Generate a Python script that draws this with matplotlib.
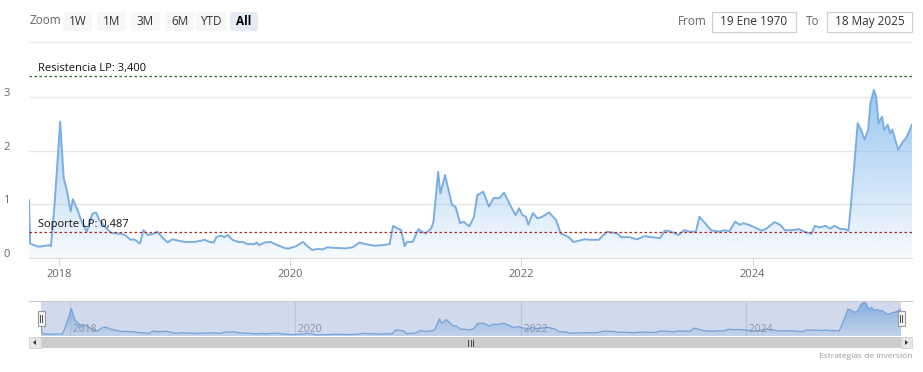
import numpy as np
import matplotlib.pyplot as plt
from matplotlib.patches import FancyBboxPatch, Rectangle, Polygon
from matplotlib.lines import Line2D
from matplotlib.transforms import ScaledTranslation

plt.rcParams['font.family'] = ['Open Sans', 'DejaVu Sans']

# fecha en años decimales y valor de la serie
years = [
    2017.74, 2017.75, 2017.82, 2017.92, 2017.93, 2017.96, 2018.01, 2018.04, 2018.07, 2018.10,
    2018.12, 2018.14, 2018.16, 2018.19, 2018.24, 2018.27, 2018.29, 2018.32, 2018.35, 2018.39,
    2018.45, 2018.54, 2018.57, 2018.62, 2018.65, 2018.70, 2018.73, 2018.77, 2018.81, 2018.85,
    2018.90, 2018.94, 2018.98, 2019.04, 2019.09, 2019.17, 2019.22, 2019.26, 2019.30, 2019.34,
    2019.36, 2019.40, 2019.43, 2019.46, 2019.50, 2019.55, 2019.59, 2019.63, 2019.69, 2019.71,
    2019.73, 2019.78, 2019.83, 2019.89, 2019.96, 2019.99, 2020.05, 2020.11, 2020.15, 2020.19,
    2020.24, 2020.28, 2020.32, 2020.38, 2020.48, 2020.54, 2020.60, 2020.65, 2020.73, 2020.80,
    2020.86, 2020.89, 2020.93, 2020.96, 2020.99, 2021.01, 2021.06, 2021.11, 2021.14, 2021.17,
    2021.22, 2021.24, 2021.28, 2021.30, 2021.34, 2021.37, 2021.40, 2021.43, 2021.47, 2021.50,
    2021.55, 2021.59, 2021.62, 2021.65, 2021.67, 2021.72, 2021.76, 2021.81, 2021.85, 2021.91,
    2021.95, 2021.98, 2022.01, 2022.04, 2022.06, 2022.10, 2022.14, 2022.18, 2022.24, 2022.30,
    2022.34, 2022.41, 2022.45, 2022.55, 2022.60, 2022.67, 2022.74, 2022.83, 2022.86, 2022.93,
    2023.00, 2023.07, 2023.12, 2023.20, 2023.24, 2023.27, 2023.32, 2023.36, 2023.41, 2023.46,
    2023.51, 2023.54, 2023.59, 2023.64, 2023.71, 2023.76, 2023.80, 2023.85, 2023.89, 2023.92,
    2023.97, 2024.04, 2024.08, 2024.12, 2024.19, 2024.24, 2024.28, 2024.34, 2024.40, 2024.45,
    2024.51, 2024.54, 2024.58, 2024.63, 2024.67, 2024.71, 2024.76, 2024.80, 2024.83, 2024.85,
    2024.88, 2024.91, 2024.94, 2024.97, 2025.00, 2025.02, 2025.05, 2025.07, 2025.09, 2025.12,
    2025.14, 2025.17, 2025.19, 2025.21, 2025.26, 2025.30, 2025.33, 2025.38,
]
values = [
    1.08, 0.27, 0.21, 0.24, 0.22, 0.96, 2.55, 1.50, 1.24, 0.87,
    1.10, 0.99, 0.90, 0.71, 0.49, 0.71, 0.83, 0.85, 0.71, 0.60,
    0.47, 0.45, 0.43, 0.34, 0.35, 0.27, 0.52, 0.43, 0.45, 0.49,
    0.37, 0.29, 0.35, 0.32, 0.30, 0.30, 0.32, 0.34, 0.30, 0.29,
    0.39, 0.42, 0.39, 0.43, 0.34, 0.30, 0.30, 0.26, 0.26, 0.29,
    0.24, 0.29, 0.30, 0.24, 0.18, 0.18, 0.22, 0.30, 0.22, 0.15,
    0.17, 0.16, 0.20, 0.19, 0.18, 0.20, 0.29, 0.26, 0.23, 0.24,
    0.26, 0.60, 0.55, 0.52, 0.22, 0.30, 0.30, 0.54, 0.49, 0.46,
    0.55, 0.68, 1.61, 1.21, 1.55, 1.27, 0.99, 0.96, 0.65, 0.68,
    0.59, 0.77, 1.18, 1.21, 1.24, 0.96, 1.12, 1.12, 1.22, 0.96,
    0.80, 0.93, 0.80, 0.77, 0.62, 0.84, 0.74, 0.77, 0.85, 0.71,
    0.46, 0.39, 0.30, 0.35, 0.34, 0.34, 0.49, 0.46, 0.39, 0.39,
    0.35, 0.41, 0.39, 0.37, 0.51, 0.51, 0.47, 0.43, 0.52, 0.49,
    0.49, 0.77, 0.65, 0.52, 0.49, 0.52, 0.50, 0.68, 0.62, 0.65,
    0.62, 0.55, 0.51, 0.55, 0.67, 0.62, 0.52, 0.52, 0.54, 0.49,
    0.45, 0.60, 0.57, 0.60, 0.55, 0.60, 0.54, 0.54, 0.51, 0.96,
    1.71, 2.52, 2.39, 2.21, 2.39, 2.89, 3.14, 3.02, 2.52, 2.64,
    2.39, 2.49, 2.33, 2.40, 2.02, 2.17, 2.24, 2.49,
]

resistencia = 3.400
soporte = 0.487
year_ticks = [2018, 2020, 2022, 2024]
y_ticks = [0, 1, 2, 3]
zoom_buttons = ["1W", "1M", "3M", "6M", "YTD", "All"]
date_from = "19 Ene 1970"
date_to = "18 May 2025"

W, H = 923, 372
line_color = "#7aaee2"
fill_rgb = (124 / 255, 181 / 255, 236 / 255)


def px_axes(x0, y0, x1, y1):
    # coordenadas en pixeles (origen arriba a la izquierda)
    return [x0 / W, 1 - y1 / H, (x1 - x0) / W, (y1 - y0) / H]


def gradient_fill(ax, x, y, ytop, a_top, a_bot, zorder=1):
    img = np.zeros((256, 1, 4))
    img[..., :3] = fill_rgb
    img[:, 0, 3] = np.linspace(a_top, a_bot, 256)
    poly = ax.fill_between(x, y, ax.get_ylim()[0], color="none", lw=0)
    im = ax.imshow(img, extent=[x[0], x[-1], ax.get_ylim()[0], ytop],
                   aspect="auto", origin="upper", zorder=zorder)
    im.set_clip_path(poly.get_paths()[0], transform=ax.transData)


fig = plt.figure(figsize=(W / 100, H / 100), dpi=100)

# ---------------- grafico principal ----------------
ax = fig.add_axes(px_axes(29, 60, 912, 258))
ax.set_xlim(years[0], years[-1])
ax.set_ylim(0, 3.70)
gradient_fill(ax, years, values, 3.70, 0.90, 0.06)
ax.plot(years, values, color=line_color, lw=1.4, zorder=3)

for s in ["top", "left", "right"]:
    ax.spines[s].set_visible(False)
ax.spines["bottom"].set_color("#dcdcdc")
ax.set_yticks(y_ticks)
ax.set_yticklabels([str(t) for t in y_ticks])
ax.grid(axis="y", color="#e6e6e6", lw=1)
ax.set_axisbelow(True)
ax.tick_params(axis="y", length=0, pad=14, labelsize=8, labelcolor="#666666")
for lab in ax.get_yticklabels():
    lab.set_transform(lab.get_transform() + ScaledTranslation(0, 0.05, fig.dpi_scale_trans))
ax.set_xticks(year_ticks)
ax.set_xticklabels([str(t) for t in year_ticks])
ax.tick_params(axis="x", length=6, color="#ccd6eb", pad=2, labelsize=8, labelcolor="#666666")

ax.axhline(resistencia, color="#2f5e2f", lw=0.9, ls=(0, (2, 2)), zorder=4)
ax.axhline(soporte, color="#b22222", lw=0.9, ls=(0, (2, 2)), zorder=4)
ax.annotate("Resistencia LP: 3,400", xy=(0, resistencia), xycoords=("axes fraction", "data"),
            xytext=(9, 2), textcoords="offset pixels", fontsize=8, va="bottom", color="#111111")
ax.annotate("Soporte LP: 0,487", xy=(0, soporte), xycoords=("axes fraction", "data"),
            xytext=(9, 2), textcoords="offset pixels", fontsize=8, va="bottom", color="#111111",
            zorder=6)

# ---------------- navegador ----------------
nav = fig.add_axes(px_axes(41, 301, 901, 336))
nav.set_xlim(years[0], years[-1])
nav.set_ylim(0.05, 3.25)
gradient_fill(nav, years, values, 3.25, 0.85, 0.15)
nav.plot(years, values, color=line_color, lw=0.9, zorder=3)
for yt in year_ticks:
    nav.axvline(yt, color="#e0e0e0", lw=0.8, zorder=0)
    nav.text(yt, 0.12, " " + str(yt), fontsize=7.5, color="#999999", va="bottom", ha="left")
nav.axvspan(years[0], years[-1], color=(102 / 255, 133 / 255, 194 / 255), alpha=0.3, lw=0, zorder=5)
nav.set_xticks([])
nav.set_yticks([])
for s in nav.spines.values():
    s.set_visible(False)

# ---------------- capa de interfaz (botones, scrollbar, etc.) ----------------
ui = fig.add_axes([0, 0, 1, 1], zorder=10)
ui.set_xlim(0, W)
ui.set_ylim(H, 0)
ui.axis("off")
ui.patch.set_alpha(0)

ui.add_line(Line2D([29, 912], [42, 42], color="#eeeeee", lw=1))
ui.text(30, 21, "Zoom", fontsize=8.5, color="#666666", va="center")
btn_x = [63, 97, 131, 165, 196, 230]
btn_w = [29, 29, 29, 29, 30, 28]
for lab, bx, bw in zip(zoom_buttons, btn_x, btn_w):
    selected = lab == "All"
    ui.add_patch(FancyBboxPatch((bx, 12), bw, 19, boxstyle="round,pad=0,rounding_size=2",
                                fc="#e6ebf5" if selected else "#f7f7f7", ec="none"))
    ui.text(bx + bw / 2, 21.5, lab, fontsize=8.5, ha="center", va="center",
            color="#000000" if selected else "#333333",
            fontweight="bold" if selected else "normal")

ui.text(678, 21.5, "From", fontsize=8.5, color="#666666", va="center")
ui.add_patch(Rectangle((712, 12), 84, 20, fc="white", ec="#cccccc", lw=0.8))
ui.text(754, 21.5, date_from, fontsize=8.5, color="#333333", ha="center", va="center")
ui.text(806, 21.5, "To", fontsize=8.5, color="#666666", va="center")
ui.add_patch(Rectangle((827, 12), 85, 20, fc="white", ec="#cccccc", lw=0.8))
ui.text(869.5, 21.5, date_to, fontsize=8.5, color="#333333", ha="center", va="center")

# contorno del navegador y asas
ui.add_line(Line2D([29, 912], [301, 301], color="#cccccc", lw=0.8))
for hx in [41, 901]:
    ui.add_patch(Rectangle((hx - 3.5, 311), 7, 15, fc="#f2f2f2", ec="#999999", lw=0.8))
    ui.add_line(Line2D([hx - 1, hx - 1], [315, 322], color="#333333", lw=0.6))
    ui.add_line(Line2D([hx + 1, hx + 1], [315, 322], color="#333333", lw=0.6))

# scrollbar
ui.add_patch(Rectangle((29, 337), 883, 11, fc="#f2f2f2", ec="none"))
ui.add_patch(Rectangle((41, 337), 860, 11, fc="#cccccc", ec="none"))
ui.add_patch(Rectangle((29, 337), 12, 11, fc="#e6e6e6", ec="#cccccc", lw=0.5))
ui.add_patch(Rectangle((901, 337), 11, 11, fc="#e6e6e6", ec="#cccccc", lw=0.5))
ui.add_patch(Polygon([[33, 342.5], [36, 340], [36, 345]], closed=True, fc="#333333"))
ui.add_patch(Polygon([[908, 342.5], [905, 340], [905, 345]], closed=True, fc="#333333"))
for gx in [468, 470.5, 473]:
    ui.add_line(Line2D([gx, gx], [339.5, 345.5], color="#333333", lw=0.6))

ui.text(912, 356, "Estrategias de Inversión", fontsize=6, color="#999999", ha="right", va="center")

fig.savefig("out.png", dpi=100)
